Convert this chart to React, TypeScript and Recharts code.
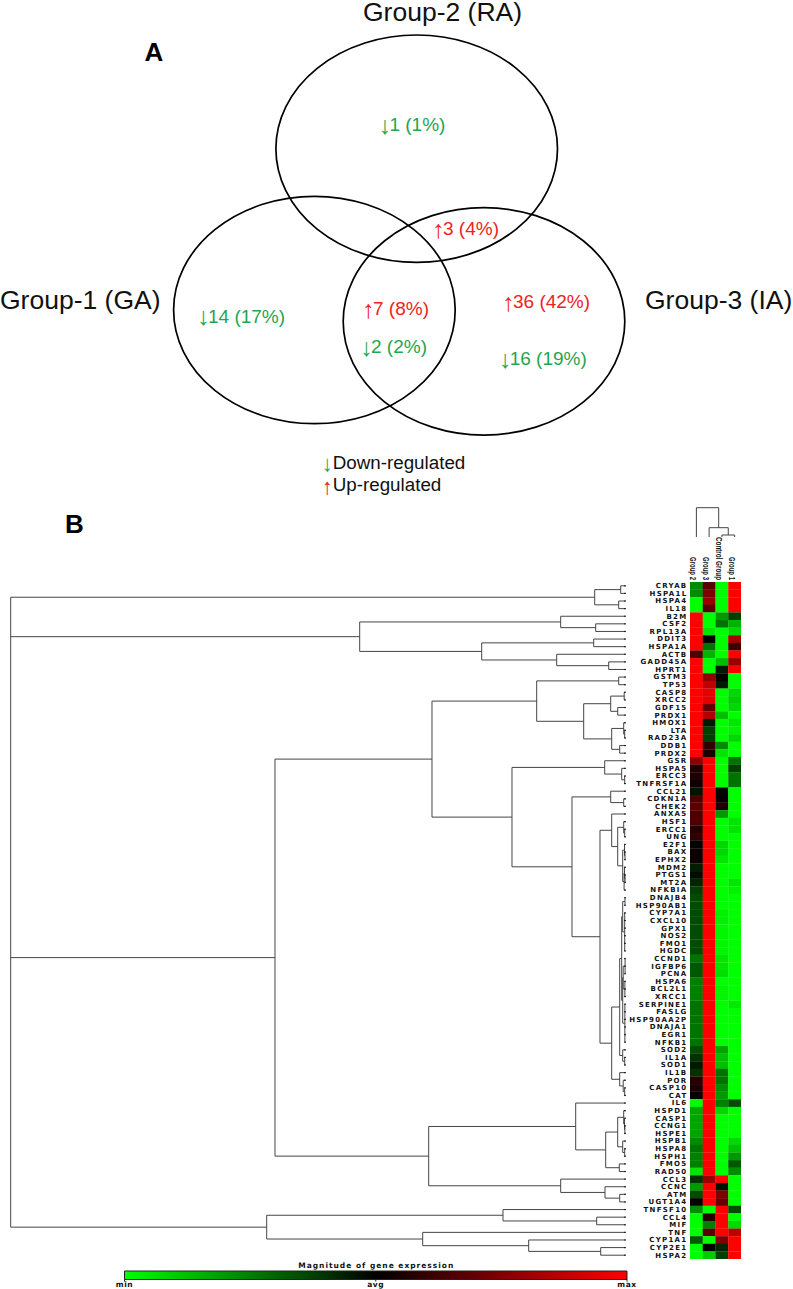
import React from "react";
import { ScatterChart, Scatter, XAxis, YAxis, ReferenceLine, ReferenceArea } from "recharts";

// ---------- Panel A: Venn ----------
const vennSetNames = ["Group-2 (RA)", "Group-1 (GA)", "Group-3 (IA)"];
const vennCountTexts = ["1 (1%)", "3 (4%)", "14 (17%)", "7 (8%)", "2 (2%)", "36 (42%)", "16 (19%)"];
const vennCountDirections = ["down", "up", "down", "up", "down", "up", "down"];
const legendTexts = ["Down-regulated", "Up-regulated"];
const legendDirections = ["down", "up"];
const panelLetters = ["A", "B"];

// ---------- Panel B: heat map ----------
const genes = [
  "CRYAB", "HSPA1L", "HSPA4", "IL18", "B2M", "CSF2", "RPL13A", "DDIT3", "HSPA1A", "ACTB",
  "GADD45A", "HPRT1", "GSTM3", "TP53", "CASP8", "XRCC2", "GDF15", "PRDX1", "HMOX1", "LTA",
  "RAD23A", "DDB1", "PRDX2", "GSR", "HSPA5", "ERCC3", "TNFRSF1A", "CCL21", "CDKN1A", "CHEK2",
  "ANXA5", "HSF1", "ERCC1", "UNG", "E2F1", "BAX", "EPHX2", "MDM2", "PTGS1", "MT2A",
  "NFKBIA", "DNAJB4", "HSP90AB1", "CYP7A1", "CXCL10", "GPX1", "NOS2", "FMO1", "HGDC", "CCND1",
  "IGFBP6", "PCNA", "HSPA6", "BCL2L1", "XRCC1", "SERPINE1", "FASLG", "HSP90AA2P", "DNAJA1", "EGR1",
  "NFKB1", "SOD2", "IL1A", "SOD1", "IL1B", "POR", "CASP10", "CAT", "IL6", "HSPD1",
  "CASP1", "CCNG1", "HSPE1", "HSPB1", "HSPA8", "HSPH1", "FMO5", "RAD50", "CCL3", "CCNC",
  "ATM", "UGT1A4", "TNFSF10", "CCL4", "MIF", "TNF", "CYP1A1", "CYP2E1", "HSPA2",
];
const columnNames = ["Group 2", "Group 3", "Control Group", "Group 1"];

const group2Values = [
  -0.55, -0.55, -1, -1, 1, 1, 1, 1, 1, 0.3,
  1, 1, 1, 1, 1, 1, 1, 1, 1, 1,
  1, 1, 1, 0.55, 0.12, 0.12, 0.05, -0.08, 0.3, 0.35,
  0.3, 0.3, 0.15, 0.2, -0.02, 0.05, 0.05, -0.12, -0.05, -0.15,
  -0.25, -0.3, -0.3, -0.3, -0.3, -0.3, -0.3, -0.3, -0.3, -0.45,
  -0.35, -0.35, -0.5, -0.5, -0.5, -0.45, -0.45, -0.45, -0.45, -0.45,
  -0.45, -0.3, -0.2, -0.1, -0.2, 0.15, 0.12, 0.02, -1, -0.65,
  -0.65, -0.65, -0.65, -0.55, -0.45, -0.5, -0.5, -0.9, -0.2, -0.6,
  -0.3, 0, -0.55, -1, -1, -1, -0.35, -1, -1,
];
const group3Values = [
  0.35, 0.5, 0.6, 0.35, -1, -1, -0.9, 0, -0.45, -0.7,
  -1, -1, 0.55, 0.75, 0.9, 0.9, 0.4, 0.7, -0.1, -0.25,
  -0.25, 0.2, 0.1, 1, 1, 1, 1, 1, 1, 1,
  1, 1, 1, 1, 1, 1, 1, 1, 1, 1,
  1, 1, 1, 1, 1, 1, 1, 1, 1, 1,
  1, 1, 1, 1, 1, 1, 1, 1, 1, 1,
  1, 1, 1, 1, 1, 1, 1, 1, 1, 1,
  1, 1, 1, 1, 1, 1, 1, 1, 0.6, 1,
  1, 1, -1, 0.15, -0.5, 0.35, -1, 0, -0.8,
];
const controlValues = [
  -1, -1, -1, -1, -0.6, -0.45, -1, -1, -1, -1,
  -0.75, -0.1, 0, -0.1, -1, -1, -1, -0.75, -1, -1,
  -1, -0.55, -0.9, -1, -1, -1, -1, -0.03, 0.03, 0.12,
  -0.6, -1, -1, -1, -0.85, -0.85, -0.9, -1, -1, -1,
  -1, -1, -1, -0.95, -0.95, -0.97, -0.97, -0.97, -0.97, -0.9,
  -0.9, -0.88, -1, -0.97, -0.97, -1, -1, -1, -1, -1,
  -1, -0.65, -0.75, -0.75, -0.45, -0.45, -0.55, -0.6, -0.5, -0.85,
  -1, -1, -1, -1, -1, -1, -1, -1, 1, -0.07,
  0.5, 0.4, 1, 1, 1, 1, 0.5, -0.15, -0.25,
];
const group1Values = [
  1, 1, 1, 1, -0.25, -0.7, -0.85, 0.65, 0.25, 1,
  0.6, 1, -1, -1, -0.85, -0.8, -0.85, -1, -0.9, -0.95,
  -0.85, -1, -1, -0.45, -0.25, -0.45, -0.45, -1, -1, -1,
  -1, -0.9, -0.9, -1, -1, -1, -1, -1, -1, -0.9,
  -0.95, -1, -1, -1, -1, -1, -1, -1, -1, -1,
  -1, -1, -1, -1, -1, -0.92, -1, -1, -1, -1,
  -1, -1, -1, -1, -1, -1, -1, -1, -0.3, -1,
  -1, -1, -1, -0.85, -0.75, -0.6, -0.35, -0.55, -1, -1,
  -1, -1, -0.3, -1, -0.85, 0.75, 1, 1, 1,
];
const columnValues = [group2Values, group3Values, controlValues, group1Values];

// Linkage lists: [node, distance, children]. A number is a leaf index, a string an earlier node.
type Merge = [string, number, (number | string)[]];
const rowMerges: Merge[] = [
  ["a1", 5, [0, 1]], ["a2", 7, [2, 3]], ["A", 31, ["a1", "a2"]],
  ["b1", 30, [5, 6]], ["b2", 65, [4, "b1"]], ["b3", 32, [7, 8]], ["b4", 17, [10, 11]],
  ["b5", 69, [9, "b4"]], ["b6", 144, ["b3", "b5"]], ["B", 266, ["b2", "b6"]],
  ["f1", 7, [12, 13]], ["f2", 1.5, [14, 15]], ["f3", 8, [16, 17]], ["f4", 15, ["f2", "f3"]],
  ["f5", 1, [19, 20]], ["f6", 2, [18, "f5"]], ["f7", 6, [21, 22]], ["f8", 14, ["f6", "f7"]],
  ["f9", 42, ["f4", "f8"]], ["F", 89, ["f1", "f9"]],
  ["g1", 1, [25, 26]], ["g2", 4, [24, "g1"]], ["g3", 21, [23, "g2"]],
  ["g4", 2, [28, 29]], ["g5", 15, [27, "g4"]],
  ["h1", 1, [32, 33]], ["h2", 2, [31, "h1"]], ["h3", 0.7, [35, 36]], ["h4", 1.2, [34, "h3"]],
  ["h5", 0.6, [38, 39]], ["h6", 1.2, [37, "h5"]], ["h7", 1.6, ["h6", 40]], ["h8", 3, ["h4", "h7"]],
  ["h9", 8, ["h2", "h8"]], ["h10", 14, [30, "h9"]],
  ["i1", 0.7, [41, 42]], ["i2", 1, [43, 44, 45, 46, 47, 48]], ["i3", 3, ["i1", "i2"]],
  ["i4", 0.6, [49, 50, 51]], ["i5", 0.8, [52, 53, 54]], ["i6", 2.5, ["i4", "i5"]],
  ["i7", 0.8, [55, 56, 57, 58, 59, 60]], ["i8", 3, ["i6", "i7"]], ["i9", 4, ["i3", "i8"]],
  ["j1", 1, [62, 63]], ["j2", 3, [61, "j1"]], ["k", 6, ["i9", "j2"]],
  ["l1", 1, [66, 67]], ["l2", 2.5, [65, "l1"]], ["l3", 6, [64, "l2"]],
  ["m", 14, ["k", "l3"]], ["n", 25.7, ["h10", "m"]], ["o", 53.7, ["g5", "n"]],
  ["G", 113.7, ["g3", "o"]], ["D", 193.7, ["F", "G"]],
  ["p1", 0.8, [71, 72]], ["p2", 1.2, [70, "p1"]], ["p3", 2, [69, "p2"]],
  ["q1", 1, [74, 75]], ["q2", 3, [73, "q1"]], ["r", 8, ["p3", "q2"]], ["s", 6.4, [76, 77]],
  ["t", 20, ["r", "s"]], ["u", 50, [68, "t"]],
  ["v1", 6, [80, 81]], ["v2", 20.7, [79, "v1"]], ["v", 65, [78, "v2"]],
  ["E", 197, ["u", "v"]], ["C", 350.7, ["D", "E"]],
  ["w1", 29, [83, 84]], ["w", 122.7, [82, "w1"]],
  ["x1", 25, [87, 88]], ["x2", 97, [86, "x1"]], ["x3", 203, [85, "x2"]],
  ["W", 359, ["w", "x3"]],
  ["root", 615, ["A", "B", "C", "W"]],
];
const columnMerges: Merge[] = [
  ["c1", 2, [2, 3]], ["c2", 9.3, [1, "c1"]], ["c3", 29.3, [0, "c2"]],
];
const legendScaleTicks = [-1, 0, 1];
const legendScaleLabels = ["min", "avg", "max"];
const legendScaleTitle = "Magnitude of gene expression";

// ---------- Layout (page pixels) ----------
const vennAnchors = [
  { x: 416.7, y: 148.7 }, { x: 314.4, y: 310 }, { x: 484, y: 321.4 },
];
const VENN_RX = 140.8;
const VENN_RY = 113.7;
const vennNameAnchors = [
  { x: 363, y: 21 }, { x: 0, y: 309 }, { x: 645, y: 309 },
];
const vennCountAnchors = [
  { x: 380.4, y: 131 }, { x: 434, y: 235 }, { x: 199, y: 322.5 }, { x: 364, y: 315 },
  { x: 362, y: 353 }, { x: 504, y: 308 }, { x: 500.7, y: 365 },
];
const legendAnchors = [{ x: 323.7, y: 468.6 }, { x: 323.7, y: 491.4 }];
const letterAnchors = [{ x: 144.5, y: 60.7 }, { x: 65, y: 533 }];

const HEAT_LEFT = 690;
const HEAT_TOP = 582.3;
const HEAT_W = 51;
const HEAT_H = 677;
const LABEL_W = 62;
const HEADER_H = 46;
const CELL_W = HEAT_W / 4;
const CELL_H = HEAT_H / genes.length;
const LEAF_X = 625.7;

const GREEN = "#1fa64f";
const RED = "#ee2222";
const LINE = "#444444";
const SANS = "'Liberation Sans', Arial, sans-serif";
const DEJAVU = "'DejaVu Sans', sans-serif";

// ---------- Helpers ----------
function heatColor(v: number) {
  const c = Math.round(Math.abs(v) * 255);
  return v >= 0 ? `rgb(${c},0,0)` : `rgb(0,${c},0)`;
}

function layoutTree(merges: Merge[]) {
  const nodes: Record<string, { p: number; d: number }> = {};
  const segs: { d1: number; d2: number; p1: number; p2: number }[] = [];
  const get = (c: number | string) => (typeof c === "number" ? { p: c + 0.5, d: 0 } : nodes[c]);
  merges.forEach(([name, d, children]) => {
    const kids = children.map(get);
    const first = kids[0];
    const last = kids[kids.length - 1];
    segs.push({ d1: d, d2: d, p1: first.p, p2: last.p });
    kids.forEach((k) => segs.push({ d1: k.d, d2: d, p1: k.p, p2: k.p }));
    nodes[name] = { p: (first.p + last.p) / 2, d };
  });
  return segs;
}

const Abs = ({ left, top, children }: any) => (
  <div style={{ position: "absolute", left, top }}>{children}</div>
);

const arrowFor = (dir: string) => (dir === "up" ? "↑" : "↓");
const colorFor = (dir: string) => (dir === "up" ? RED : GREEN);
const Arrow = ({ x, y, dir, size = 25 }: any) => (
  <text x={x - 2} y={y + 2.5} fontFamily={SANS} fontSize={size} fill={colorFor(dir)}>
    {arrowFor(dir)}
  </text>
);

// ---------- Panel A ----------
function VennPanel() {
  const sets = vennAnchors.map((a, i) => ({ ...a, name: vennSetNames[i] }));
  const names = vennNameAnchors.map((a, i) => ({ ...a, text: vennSetNames[i] }));
  const counts = vennCountAnchors.map((a, i) => ({ ...a, text: vennCountTexts[i], dir: vennCountDirections[i] }));
  const legend = legendAnchors.map((a, i) => ({ ...a, text: legendTexts[i], dir: legendDirections[i] }));
  const letters = letterAnchors.map((a, i) => ({ ...a, text: panelLetters[i] }));
  return (
    <ScatterChart width={793} height={560} margin={{ top: 0, right: 0, bottom: 0, left: 0 }}>
      <XAxis type="number" dataKey="x" domain={[0, 793]} hide />
      <YAxis type="number" dataKey="y" domain={[0, 560]} reversed hide />
      <Scatter
        name="sets"
        data={sets}
        isAnimationActive={false}
        shape={(p: any) => (
          <ellipse cx={p.cx} cy={p.cy} rx={VENN_RX} ry={VENN_RY} fill="none" stroke="#000" strokeWidth={1.7} />
        )}
      />
      <Scatter
        name="set names"
        data={names}
        isAnimationActive={false}
        shape={(p: any) => (
          <text x={p.cx} y={p.cy} fontFamily={SANS} fontSize={26.5} fill="#111">
            {p.payload.text}
          </text>
        )}
      />
      <Scatter
        name="counts"
        data={counts}
        isAnimationActive={false}
        shape={(p: any) => (
          <g>
            <Arrow x={p.cx} y={p.cy} dir={p.payload.dir} />
            <text x={p.cx + 9} y={p.cy} fontFamily={SANS} fontSize={19} fill={colorFor(p.payload.dir)}>
              {p.payload.text}
            </text>
          </g>
        )}
      />
      <Scatter
        name="legend"
        data={legend}
        isAnimationActive={false}
        shape={(p: any) => (
          <g>
            <Arrow x={p.cx} y={p.cy} dir={p.payload.dir} size={22} />
            <text x={p.cx + 9} y={p.cy} fontFamily={SANS} fontSize={18.8} fill="#111">
              {p.payload.text}
            </text>
          </g>
        )}
      />
      <Scatter
        name="letters"
        data={letters}
        isAnimationActive={false}
        shape={(p: any) => (
          <text x={p.cx} y={p.cy} fontFamily={SANS} fontSize={26} fontWeight={700} fill="#000">
            {p.payload.text}
          </text>
        )}
      />
    </ScatterChart>
  );
}

// ---------- Panel B ----------
function RowDendrogram() {
  const segs = layoutTree(rowMerges);
  const leaves = genes.map((g, i) => ({ d: 0, pos: i + 0.5, gene: g }));
  return (
    <ScatterChart width={LEAF_X + 1} height={HEAT_H} margin={{ top: 0, right: 1, bottom: 0, left: 0 }}>
      <XAxis type="number" dataKey="d" domain={[0, LEAF_X]} reversed hide />
      <YAxis type="number" dataKey="pos" domain={[0, genes.length]} reversed hide />
      {segs.map((s, i) => (
        <ReferenceLine
          key={i}
          segment={[{ x: s.d1, y: s.p1 }, { x: s.d2, y: s.p2 }]}
          stroke={LINE}
          strokeWidth={1}
          ifOverflow="visible"
        />
      ))}
      <Scatter
        name="leaves"
        data={leaves}
        isAnimationActive={false}
        shape={(p: any) => <rect x={p.cx - 1.5} y={p.cy - 0.6} width={1.5} height={1.2} fill="#111" />}
      />
    </ScatterChart>
  );
}

const GeneTick = (p: any) => {
  const gene = genes[Math.floor(p.payload.value)];
  return (
    <text
      x={p.x - 0.5}
      y={p.y + 2.4}
      textAnchor="end"
      fontFamily={DEJAVU}
      fontWeight={700}
      fontSize={7}
      letterSpacing={1.3}
      fill="#111"
    >
      {gene}
    </text>
  );
};

const ColumnTick = (p: any) => {
  const name = columnNames[Math.floor(p.payload.value)];
  const len = name.length > 8 ? 43 : 23;
  const bx = p.x - 6;
  const by = HEADER_H - 2 - len;
  return (
    <text
      x={bx}
      y={by}
      transform={`rotate(90 ${bx} ${by})`}
      fontFamily={SANS}
      fontWeight={700}
      fontSize={8.5}
      textLength={len}
      lengthAdjust="spacingAndGlyphs"
      fill="#111"
    >
      {name}
    </text>
  );
};

function HeatMap() {
  const cells = columnValues.map((vals, c) =>
    vals.map((v, r) => ({ col: c + 0.5, row: r + 0.5, v })),
  );
  return (
    <ScatterChart
      width={LABEL_W + HEAT_W}
      height={HEADER_H + HEAT_H}
      margin={{ top: 0, right: 0, bottom: 0, left: 0 }}
    >
      <XAxis
        type="number"
        dataKey="col"
        orientation="top"
        height={HEADER_H}
        domain={[0, 4]}
        ticks={[0.5, 1.5, 2.5, 3.5]}
        interval={0}
        axisLine={false}
        tickLine={false}
        tickSize={0}
        tick={ColumnTick}
      />
      <YAxis
        type="number"
        dataKey="row"
        width={LABEL_W}
        domain={[0, genes.length]}
        reversed
        ticks={genes.map((_, i) => i + 0.5)}
        interval={0}
        axisLine={false}
        tickLine={false}
        tickSize={0}
        tick={GeneTick}
      />
      {cells.map((col, c) => (
        <Scatter
          key={c}
          name={columnNames[c]}
          data={col}
          isAnimationActive={false}
          shape={(p: any) => (
            <rect
              x={p.cx - CELL_W / 2}
              y={p.cy - CELL_H / 2}
              width={CELL_W + 0.2}
              height={CELL_H + 0.2}
              fill={heatColor(p.payload.v)}
            />
          )}
        />
      ))}
    </ScatterChart>
  );
}

function ColumnDendrogram() {
  const segs = layoutTree(columnMerges);
  return (
    <ScatterChart width={HEAT_W} height={33} margin={{ top: 0, right: 0, bottom: 1, left: 0 }}>
      <XAxis type="number" dataKey="x" domain={[0, 4]} hide />
      <YAxis type="number" dataKey="y" domain={[0, 32]} hide />
      {segs.map((s, i) => (
        <ReferenceLine
          key={i}
          segment={[{ x: s.p1, y: s.d1 }, { x: s.p2, y: s.d2 }]}
          stroke={LINE}
          strokeWidth={1}
          ifOverflow="visible"
        />
      ))}
      <Scatter name="columns" data={columnNames.map((_, i) => ({ x: i + 0.5, y: 0 }))} isAnimationActive={false} shape={() => <g />} />
    </ScatterChart>
  );
}

const ScaleTick = (p: any) => (
  <text
    x={p.x}
    y={p.y + 4.3}
    textAnchor="middle"
    fontFamily={DEJAVU}
    fontWeight={700}
    fontSize={7.5}
    letterSpacing={0.6}
    fill="#111"
  >
    {legendScaleLabels[legendScaleTicks.indexOf(p.payload.value)]}
  </text>
);

function ColorScale() {
  return (
    <ScatterChart width={540} height={27} margin={{ top: 9, right: 19, bottom: 0, left: 18.5 }}>
      <defs>
        <linearGradient id="scaleGrad" x1="0" y1="0" x2="1" y2="0">
          <stop offset="0" stopColor="#00ff00" />
          <stop offset="0.5" stopColor="#000000" />
          <stop offset="1" stopColor="#ff0000" />
        </linearGradient>
      </defs>
      <XAxis
        type="number"
        dataKey="v"
        domain={[-1, 1]}
        ticks={legendScaleTicks}
        interval={0}
        height={9.5}
        axisLine={false}
        tickSize={2}
        tickMargin={1}
        tickLine={{ stroke: "#222" }}
        tick={ScaleTick}
      />
      <YAxis type="number" dataKey="y" domain={[0, 1]} hide />
      <ReferenceArea x1={-1} x2={1} y1={0} y2={1} fill="url(#scaleGrad)" fillOpacity={1} stroke="#222" strokeWidth={1} ifOverflow="visible" />
      <Scatter
        name="title"
        data={[{ v: 0, y: 1, label: legendScaleTitle }]}
        isAnimationActive={false}
        shape={(p: any) => (
          <text
            x={p.cx}
            y={p.cy - 2.6}
            textAnchor="middle"
            fontFamily={DEJAVU}
            fontWeight={700}
            fontSize={7.5}
            textLength={155}
            fill="#111"
          >
            {p.payload.label}
          </text>
        )}
      />
    </ScatterChart>
  );
}

export default function App() {
  return (
    <div style={{ width: 777, height: 1273 }}>
      <Abs left={0} top={0}><VennPanel /></Abs>
      <Abs left={0} top={HEAT_TOP}><RowDendrogram /></Abs>
      <Abs left={HEAT_LEFT - LABEL_W} top={HEAT_TOP - HEADER_H}><HeatMap /></Abs>
      <Abs left={HEAT_LEFT} top={505}><ColumnDendrogram /></Abs>
      <Abs left={106} top={1261.7}><ColorScale /></Abs>
    </div>
  );
}
